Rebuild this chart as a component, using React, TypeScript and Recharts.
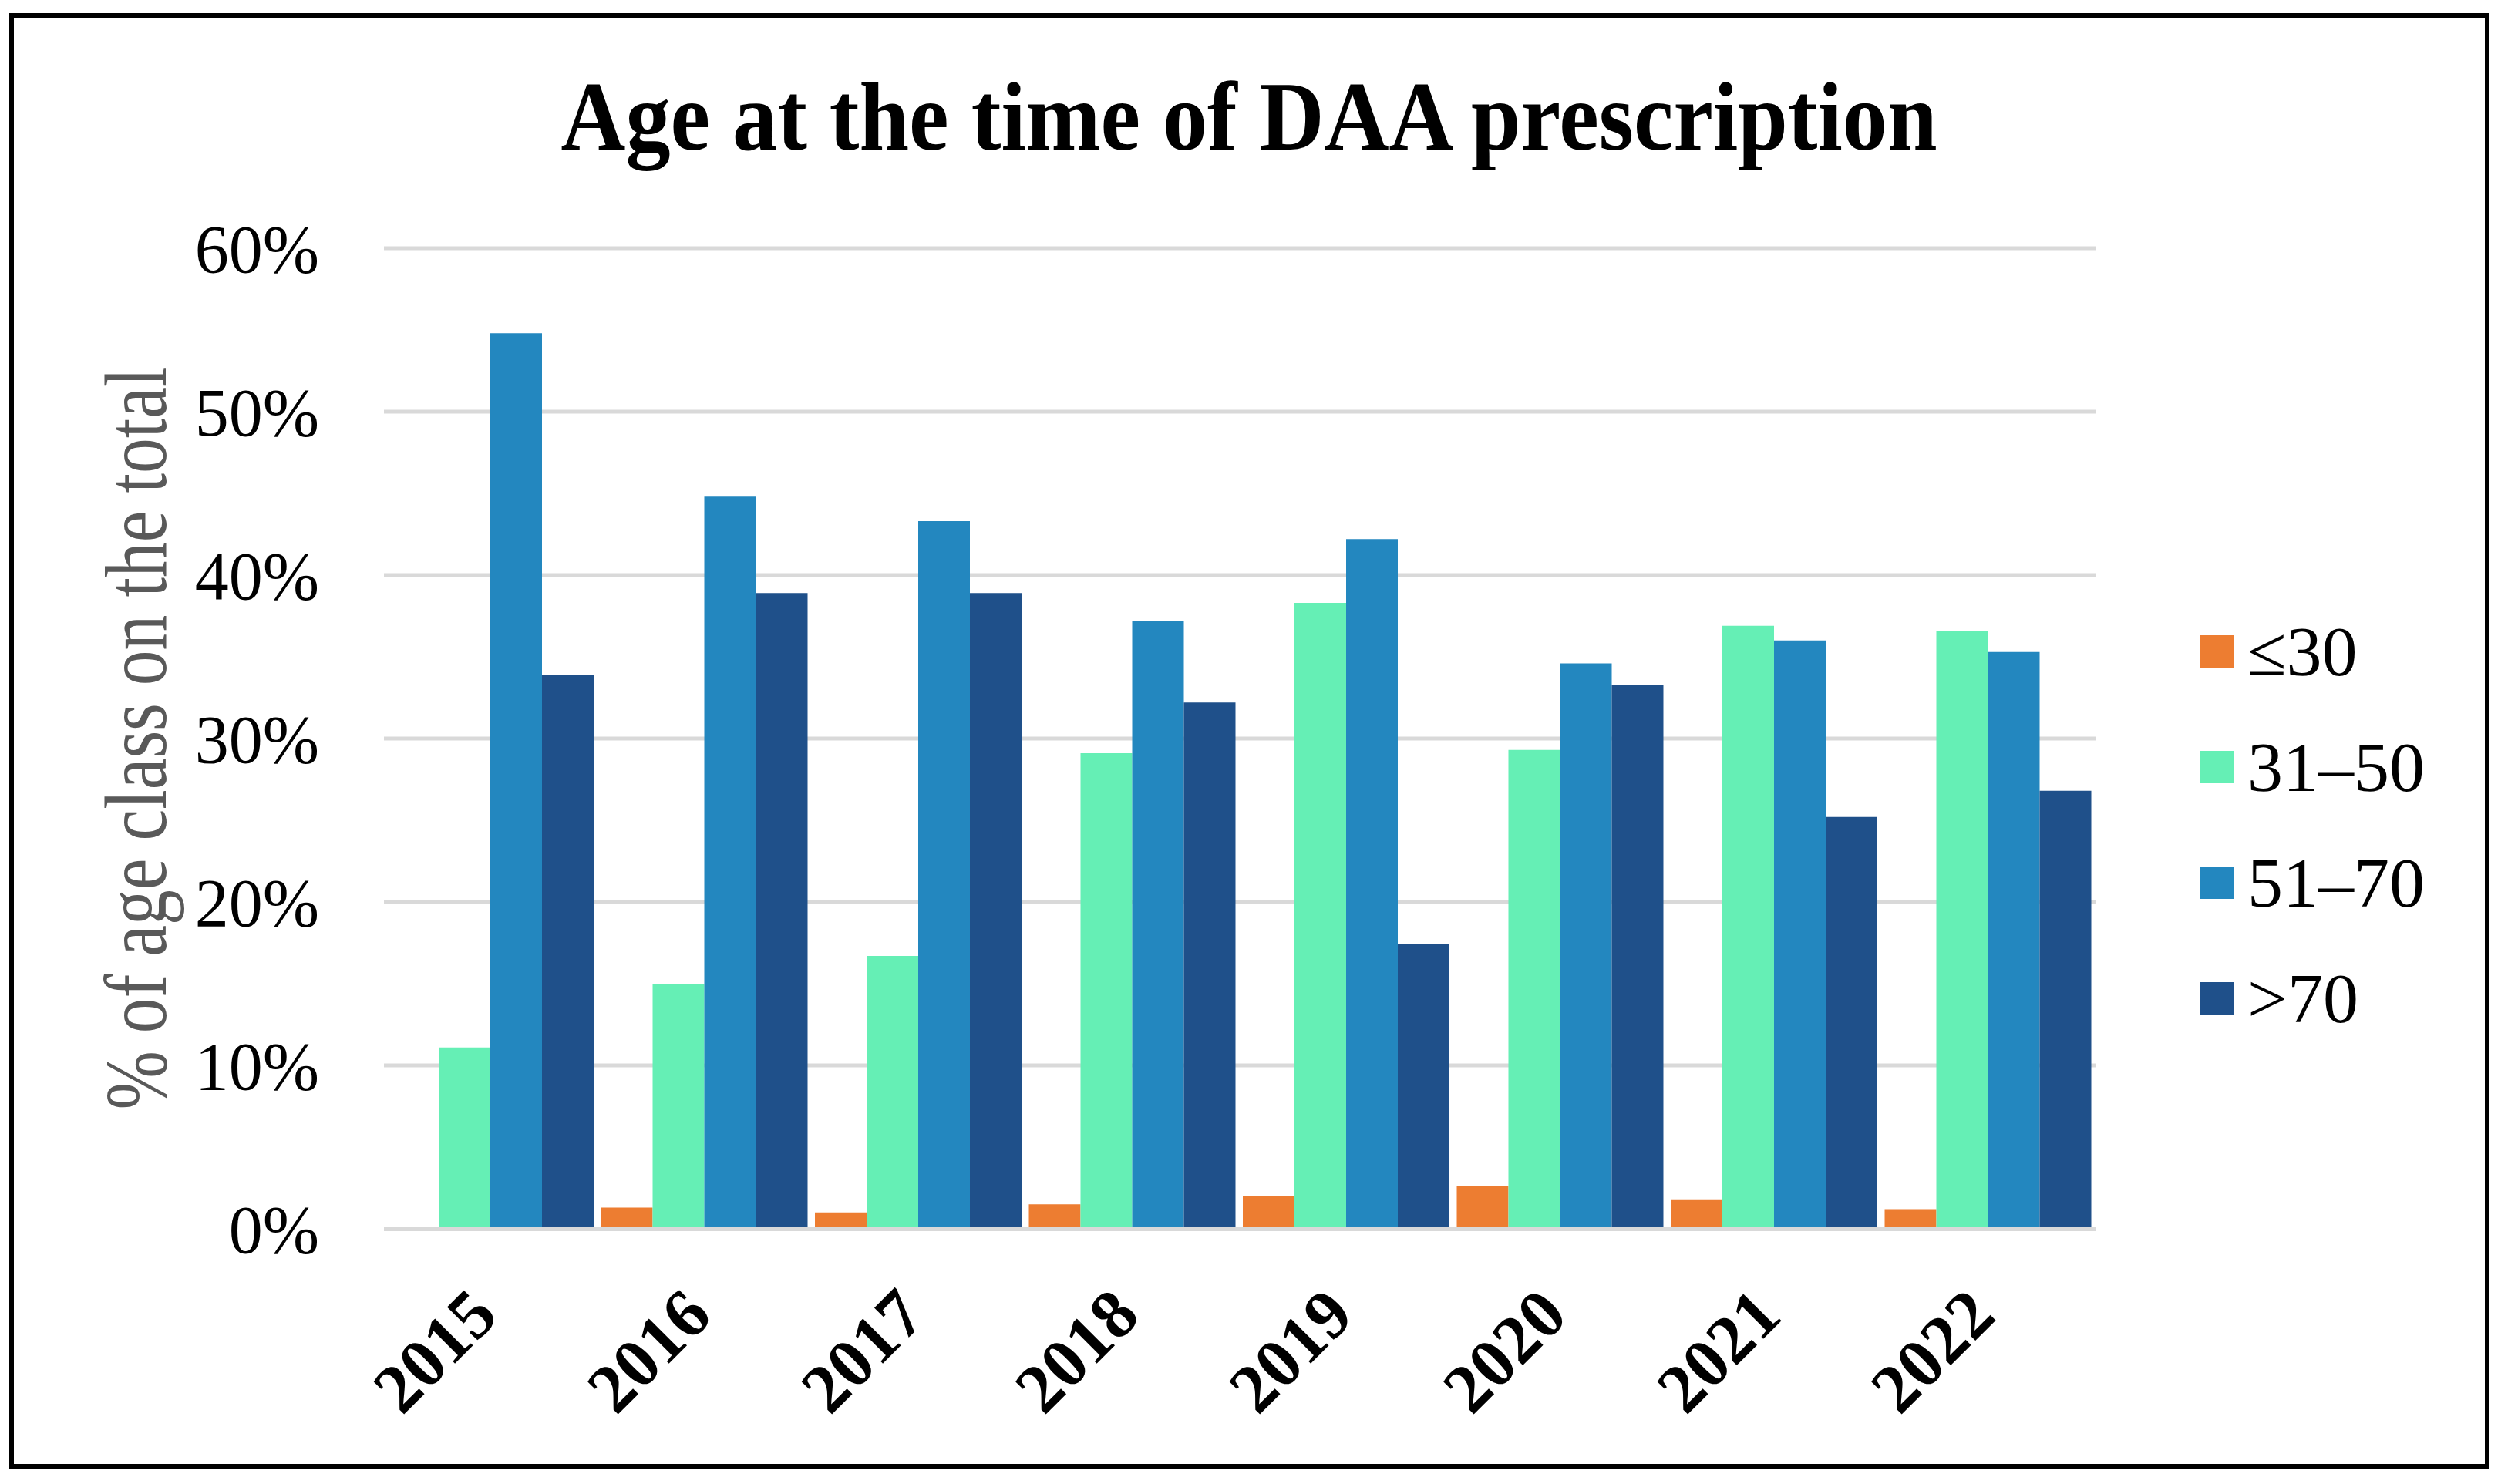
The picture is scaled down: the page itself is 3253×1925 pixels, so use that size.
import React from "react";
import { BarChart, Bar, XAxis, YAxis, CartesianGrid } from "recharts";

const years = ["2015", "2016", "2017", "2018", "2019", "2020", "2021", "2022"];
const under30 = [0, 0.013, 0.01, 0.015, 0.02, 0.026, 0.018, 0.012];
const age31to50 = [0.111, 0.15, 0.167, 0.291, 0.383, 0.293, 0.369, 0.366];
const age51to70 = [0.548, 0.448, 0.433, 0.372, 0.422, 0.346, 0.36, 0.353];
const over70 = [0.339, 0.389, 0.389, 0.322, 0.174, 0.333, 0.252, 0.268];
const yTicks = [0, 0.1, 0.2, 0.3, 0.4, 0.5, 0.6];

const series = [
  { key: "u30", name: "\u226430", color: "#ED7D31", values: under30 },
  { key: "a31", name: "31\u201350", color: "#65EFB5", values: age31to50 },
  { key: "a51", name: "51\u201370", color: "#2387BF", values: age51to70 },
  { key: "o70", name: ">70", color: "#1F508A", values: over70 },
];

const data = years.map((year, i) => {
  const row: { [k: string]: string | number } = { year };
  series.forEach((s) => {
    row[s.key] = s.values[i];
  });
  return row;
});

const FONT = "'Liberation Serif', 'Times New Roman', serif";

function YearTick({ x, y, payload }: any) {
  const ax = x + 12;
  const ay = y + 108;
  return (
    <text
      x={ax}
      y={ay}
      transform={`rotate(-45, ${ax}, ${ay})`}
      textAnchor="end"
      fontFamily={FONT}
      fontWeight="bold"
      fontSize={90}
      fill="#000"
    >
      {payload.value}
    </text>
  );
}

function YLabel({ viewBox }: any) {
  const cx = 176;
  const cy = viewBox.y + viewBox.height / 2;
  return (
    <text
      x={cx}
      y={cy}
      transform={`rotate(-90, ${cx}, ${cy})`}
      textAnchor="middle"
      dominantBaseline="central"
      fontFamily={FONT}
      fontSize={114}
      fill="#595959"
      textLength={963}
      lengthAdjust="spacingAndGlyphs"
    >
      % of age class on the total
    </text>
  );
}

export default function App() {
  return (
    <div style={{ position: "absolute", left: 0, top: 0, width: 3253, height: 1925, background: "#fff" }}>
      <div
        style={{
          position: "absolute",
          left: 12,
          top: 17,
          width: 3205,
          height: 1876,
          border: "6px solid #000",
        }}
      />
      <svg style={{ position: "absolute", left: 0, top: 0 }} width={3253} height={260}>
        <text
          x={1620}
          y={194}
          textAnchor="middle"
          fontFamily={FONT}
          fontWeight="bold"
          fontSize={128}
          textLength={1785}
          lengthAdjust="spacingAndGlyphs"
          fill="#000"
        >
          Age at the time of DAA prescription
        </text>
      </svg>
      <div style={{ position: "absolute", left: 0, top: 0 }}>
        <BarChart
          width={3253}
          height={1925}
          data={data}
          margin={{ top: 322, right: 535, bottom: 0, left: 0 }}
          barCategoryGap={4}
          barGap={0}
        >
          <CartesianGrid vertical={false} stroke="#D9D9D9" strokeWidth={5} />
          <XAxis
            dataKey="year"
            height={331}
            tick={<YearTick />}
            tickLine={false}
            axisLine={{ stroke: "#D9D9D9", strokeWidth: 6 }}
            interval={0}
          />
          <YAxis
            width={498}
            domain={[0, 0.6]}
            ticks={yTicks}
            tickFormatter={(v: number) => `${Math.round(v * 100)}%`}
            tickLine={false}
            axisLine={false}
            tickSize={0}
            tickMargin={84}
            tick={{ fontFamily: FONT, fontSize: 88, fill: "#000" }}
            label={<YLabel />}
          />
          {series.map((s) => (
            <Bar key={s.key} dataKey={s.key} name={s.name} fill={s.color} isAnimationActive={false} />
          ))}
        </BarChart>
      </div>
      <div style={{ position: "absolute", left: 2853, top: 770, fontFamily: FONT }}>
        {series.map((s) => (
          <div key={s.key} style={{ display: "flex", alignItems: "center", height: 150 }}>
            <div style={{ width: 44, height: 42, background: s.color, marginRight: 18 }} />
            <span style={{ fontSize: 92, color: "#000", lineHeight: 1 }}>{s.name}</span>
          </div>
        ))}
      </div>
    </div>
  );
}
